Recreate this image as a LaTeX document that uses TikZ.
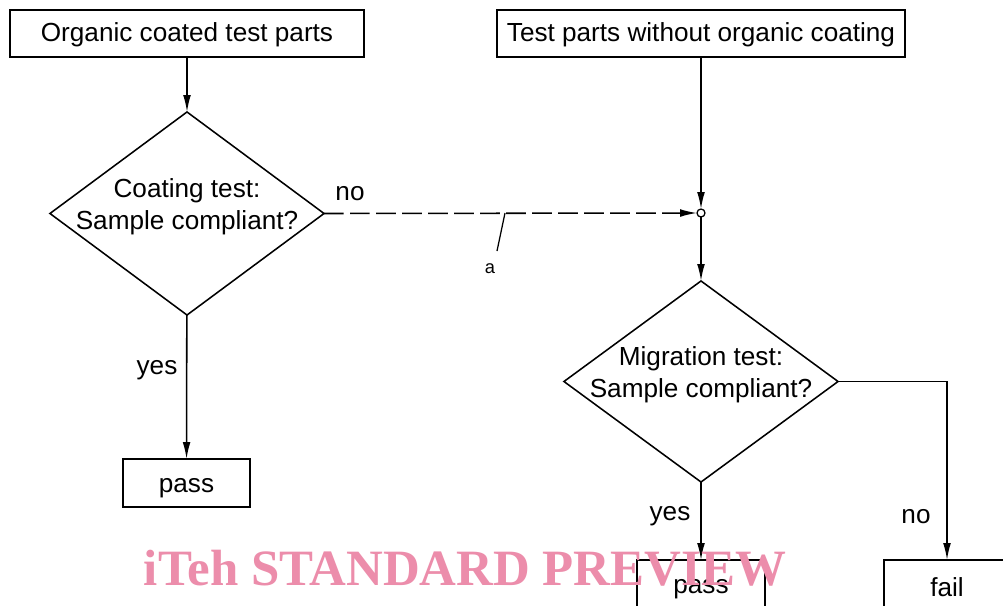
\documentclass[tikz,border=0pt]{standalone}
\usepackage{fontspec}
\setmainfont{Liberation Sans}
\newfontfamily\wmfont{Liberation Serif}
\usetikzlibrary{arrows.meta,shapes.geometric}
\definecolor{wmpink}{RGB}{236,141,171}
\begin{document}
\begin{tikzpicture}[x=0.025cm,y=-0.025cm, line width=1.1pt,
  txt/.style={font=\fontsize{18.6}{22.8}\selectfont},
  box/.style={draw, rectangle, inner sep=0pt, outer sep=0pt, txt},
  dia/.style={draw, diamond, inner sep=0pt, outer sep=0pt},
  arr/.style={-{Latex[length=12pt,width=5.5pt]}},
  dashline/.style={dash pattern=on 14pt off 4.5pt},
  lbl/.style={txt, inner sep=0pt, align=center},
  wm/.style={font=\wmfont\bfseries\fontsize{36.2}{40}\selectfont, text=wmpink, inner sep=0pt}]
\useasboundingbox (0,0) rectangle (1003,605);
\clip (0,0) rectangle (1003,605);
\fill[white] (0,0) rectangle (1003,605);

\node[box, minimum width=8.85cm, minimum height=1.175cm] (b1) at (187,33.5) {};
\node[lbl] (b1t) at (187,35) {Organic coated test parts};
\node[box, minimum width=10.2cm, minimum height=1.175cm] (b2) at (701,33.5) {};
\node[lbl] (b2t) at (701,35) {Test parts without organic coating};
\node[dia, minimum width=6.85cm, minimum height=5.075cm] (d1) at (187,213.5) {};
\node[lbl] (t1) at (187,207) {Coating test:\\Sample compliant?};
\node[dia, minimum width=6.85cm, minimum height=5.025cm] (d2) at (701,381.5) {};
\node[lbl] (t2) at (701,375) {Migration test:\\Sample compliant?};
\node[circle, draw, minimum size=0.2cm, inner sep=0pt, outer sep=0pt, line width=0.9pt] (j) at (701,213) {};
\node[box, minimum width=3.175cm, minimum height=1.2cm] (p1) at (186.5,483) {};
\node[lbl] (p1t) at (186.5,488) {pass};
\node[box, minimum width=3.2cm, minimum height=1.2cm] (p2) at (701,584) {};
\node[lbl] (p2t) at (701,589) {pass};
\node[box, minimum width=3.15cm, minimum height=1.2cm] (f) at (947,584) {};
\node[lbl] (ft) at (947,587) {fail};

\draw[arr] (b1) -- (d1);
\draw[arr] (b2) -- (j);
\draw[arr] (j) -- (d2);
\draw[arr, dashline] (d1.east) -- (j.west);
\draw[arr] (d1) -- (p1);
\draw[arr] (d2) -- (p2);
\draw[arr] (d2.east) -| (f);

\node[lbl] (no1) at (350,194) {no};
\node[lbl] (yes1) at (157,370) {yes};
\node[lbl] (yes2) at (670,516) {yes};
\node[lbl] (no2) at (916,517) {no};

\coordinate (aTop) at (505,213);
\coordinate (aBot) at (497,251);
\draw[line width=0.9pt] (aTop) -- (aBot);
\node[inner sep=0pt, font=\fontsize{13}{15}\selectfont] (alab) at (490,269) {a};

\node[wm, anchor=base] (wmark) at (465,585) {iTeh STANDARD PREVIEW};
\end{tikzpicture}
\end{document}
